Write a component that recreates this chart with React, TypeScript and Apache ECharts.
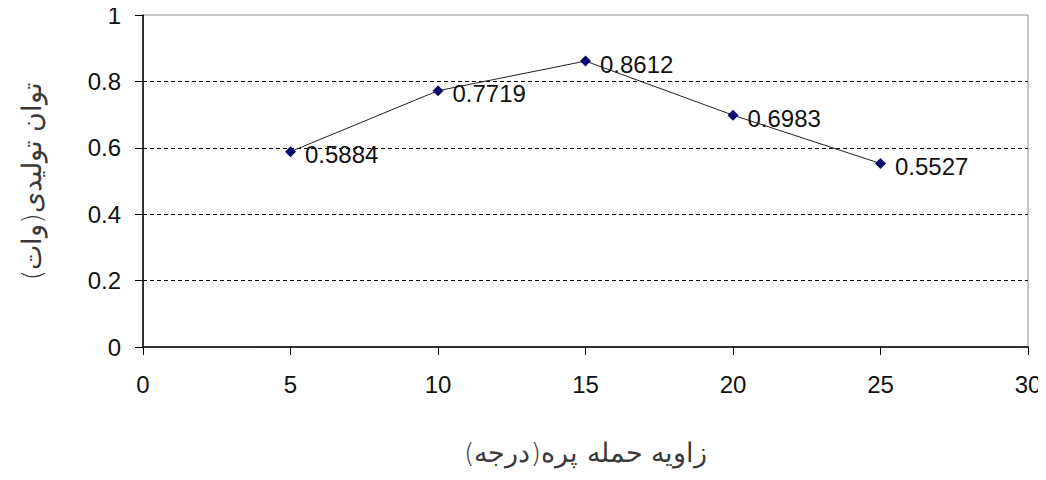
import React, { useEffect, useRef } from "react";
import * as echarts from "echarts";

// Blade angle of attack (degrees) and generated power (watts)
const angles = [5, 10, 15, 20, 25];
const power = [0.5884, 0.7719, 0.8612, 0.6983, 0.5527];
const gridLevels = [0.2, 0.4, 0.6, 0.8];

const xName = "زاویه حمله پره(درجه)";
const yName = "توان تولیدی(وات)";

const latin = "'Liberation Sans', Arial, sans-serif";
const persian = "'DejaVu Sans', sans-serif";

export default function App() {
  const ref = useRef<HTMLDivElement>(null);

  useEffect(() => {
    if (!ref.current) return;
    const chart = echarts.init(ref.current, undefined, { renderer: "svg" });
    chart.setOption({
      animation: false,
      backgroundColor: "#ffffff",
      grid: {
        left: 143,
        right: 18,
        top: 15,
        bottom: 133,
        show: true,
        borderColor: "#8c8c8c",
        borderWidth: 1,
      },
      xAxis: {
        type: "value",
        min: 0,
        max: 30,
        interval: 5,
        name: xName,
        nameLocation: "middle",
        nameGap: 92,
        nameTextStyle: { fontFamily: persian, fontSize: 27, color: "#3a3a3a", fontWeight: 300 },
        axisLine: { show: true, onZero: false, lineStyle: { color: "#000", width: 1.5 } },
        axisTick: { show: true, inside: false, length: 8, lineStyle: { color: "#000" } },
        axisLabel: { fontFamily: latin, fontSize: 24, color: "#111", margin: 25 },
        splitLine: { show: false },
      },
      yAxis: {
        type: "value",
        min: 0,
        max: 1,
        interval: 0.2,
        name: yName,
        nameLocation: "middle",
        nameGap: 98,
        nameRotate: 90,
        nameTextStyle: { fontFamily: persian, fontSize: 27, color: "#3a3a3a", fontWeight: 300 },
        axisLine: { show: true, onZero: false, lineStyle: { color: "#000", width: 1.5 } },
        axisTick: { show: true, inside: false, length: 8, lineStyle: { color: "#000" } },
        axisLabel: {
          fontFamily: latin,
          fontSize: 24,
          color: "#111",
          margin: 22,
          formatter: (v: number) => String(Math.round(v * 10) / 10),
        },
        splitLine: { show: false },
      },
      series: [
        {
          type: "line",
          data: angles.map((a, i) => [a, power[i]]),
          symbol: "diamond",
          symbolSize: 11,
          itemStyle: { color: "#0a0a6e" },
          lineStyle: { color: "#222", width: 1 },
          label: {
            show: true,
            position: "right",
            distance: 9,
            offset: [0, 3],
            fontFamily: latin,
            fontSize: 24,
            color: "#111",
            formatter: (p: any) => p.value[1].toFixed(4),
          },
          markLine: {
            silent: true,
            symbol: "none",
            label: { show: false },
            lineStyle: { color: "#000", type: [4, 3], width: 1 },
            data: gridLevels.map((v) => ({ yAxis: v })),
            z: 1,
          },
          z: 3,
        },
      ],
    });
    return () => chart.dispose();
  }, []);

  return <div ref={ref} style={{ width: 1046, height: 480, margin: -8 }} />;
}
